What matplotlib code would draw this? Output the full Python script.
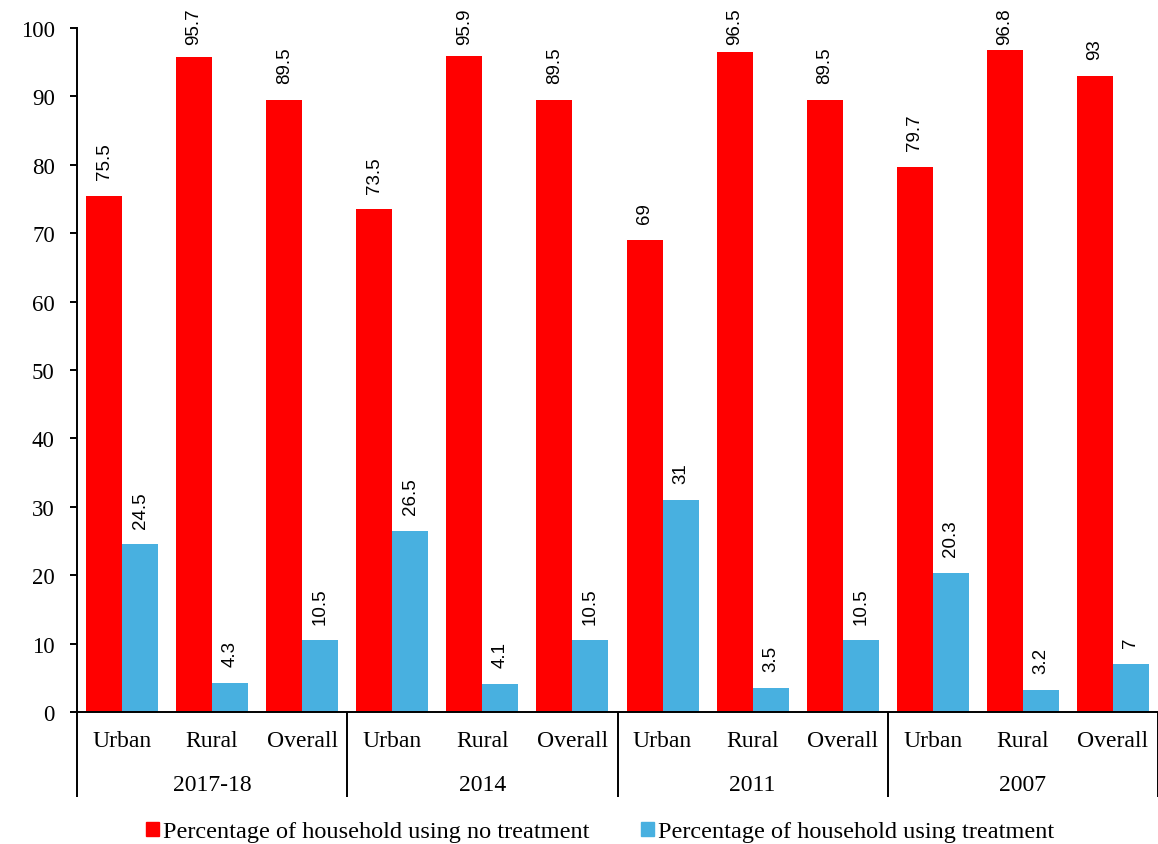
import numpy as np
import matplotlib
matplotlib.use('Agg')
import matplotlib.pyplot as plt
from matplotlib.patches import Patch
from matplotlib.transforms import blended_transform_factory, offset_copy

plt.rcParams['font.family'] = ['Liberation Serif', 'DejaVu Serif']

anos = ['2017-18', '2014', '2011', '2007']
areas = ['Urban', 'Rural', 'Overall']
sem_tratamento = [75.5, 95.7, 89.5, 73.5, 95.9, 89.5, 69, 96.5, 89.5, 79.7, 96.8, 93]
com_tratamento = [24.5, 4.3, 10.5, 26.5, 4.1, 10.5, 31, 3.5, 10.5, 20.3, 3.2, 7]
nome_sem = 'Percentage of household using no treatment'
nome_com = 'Percentage of household using treatment'

cor_sem = '#FF0000'
cor_com = '#48B0E0'

fig = plt.figure(figsize=(11.58, 8.45), dpi=100)
y_base = 1 - 713 / 845
ax = fig.add_axes([77 / 1158, y_base, 1 - 77 / 1158, (713 - 29) / 845])

x = np.arange(len(sem_tratamento))
w = 0.4
b1 = ax.bar(x - w / 2, sem_tratamento, w, color=cor_sem)
b2 = ax.bar(x + w / 2, com_tratamento, w, color=cor_com)

ax.set_xlim(-0.5, len(x) - 0.5)
ax.set_ylim(0, 100)
ax.set_yticks(np.arange(0, 101, 10))
ax.tick_params(axis='y', labelsize=16.5, length=5, width=1.4, direction='out', pad=11)
ax.set_xticks([])
for lado in ['top', 'right']:
    ax.spines[lado].set_visible(False)
for lado in ['left', 'bottom']:
    ax.spines[lado].set_linewidth(1.4)

# rotulos de valor, girados, acima de cada barra
rotulos = []
for barras, valores in [(b1, sem_tratamento), (b2, com_tratamento)]:
    for r, v in zip(barras, valores):
        tr = offset_copy(ax.transData, fig=fig, x=0, y=12, units='points')
        t = ax.text(r.get_x() + r.get_width() / 2, v, f'{v:g}', rotation=90,
                    ha='center', va='bottom', fontsize=13.5,
                    family=['Liberation Sans', 'DejaVu Sans'], transform=tr,
                    clip_on=False)
        rotulos.append(t)

# eixo de categorias em dois niveis
tr_x = blended_transform_factory(ax.transData, fig.transFigure)
for i, xi in enumerate(x):
    fig.text(xi, 1 - 742 / 845, areas[i % 3], transform=tr_x,
             ha='center', va='center', fontsize=17)
for g, ano in enumerate(anos):
    fig.text(3 * g + 1, 1 - 786 / 845, ano, transform=tr_x,
             ha='center', va='center', fontsize=17)
for sep in np.arange(-0.5, len(x), 3):
    ax.plot([sep, sep], [y_base, 1 - 798 / 845], transform=tr_x, color='black',
            lw=1.4, clip_on=False, solid_capstyle='butt')

handles = [Patch(color=cor_sem, label=nome_sem), Patch(color=cor_com, label=nome_com)]
fig.legend(handles=handles, loc='center', bbox_to_anchor=(600 / 1158, 1 - 833 / 845),
           ncol=2, frameon=False, fontsize=17.5, handlelength=0.56, handleheight=0.56,
           handletextpad=0.15, columnspacing=2.1, borderpad=0)

# rotulos que passam do topo da figura descem ate caber
fig.canvas.draw()
renderer = fig.canvas.get_renderer()
H = fig.bbox.height
for t in rotulos:
    bb = t.get_window_extent(renderer)
    excesso = bb.y1 - (H - 8)
    if excesso > 0:
        t.set_transform(offset_copy(t.get_transform(), fig=fig, x=0,
                                    y=-excesso * 72 / fig.dpi, units='points'))

plt.savefig('out.png', dpi=100)
